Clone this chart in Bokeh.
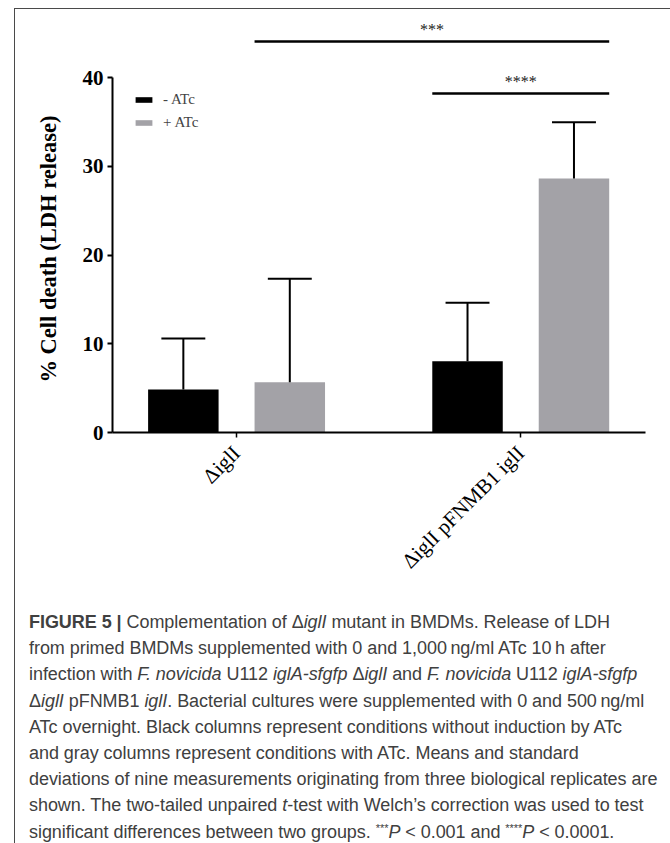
from bokeh.plotting import figure
from bokeh.models import ColumnDataSource, Range1d, FixedTicker, Legend, LegendItem, Div, Title
from bokeh.layouts import column
from bokeh.core.properties import value
from bokeh.embed import file_html
from bokeh.resources import INLINE

# ---------------- data ----------------
categories = ["\u0394iglI", "\u0394iglI pFNMB1 iglI"]
series = ["- ATc", "+ ATc"]
minus_atc_mean = [4.85, 8.03]
minus_atc_sd = [5.74, 6.58]
plus_atc_mean = [5.67, 28.62]
plus_atc_sd = [11.65, 6.34]
y_ticks = [0, 10, 20, 30, 40]
y_title = "% Cell death (LDH release)"
# significance comparisons: (group, series) vs (group, series)
sig_from = [(0, 1), (1, 0)]
sig_to = [(1, 1), (1, 1)]
sig_level = [44.06, 38.2]
sig_label = ["***", "****"]

# ---------------- layout constants ----------------
DODGE = 0.1873
BAR_W = 0.248
CAP = 0.0773
SERIF = "Liberation Serif"
X_START = 0.0634

centers = [i + 0.5 for i in range(len(categories))]
offsets = [-DODGE, DODGE]

p = figure(width=649, height=595,
           x_range=Range1d(X_START, 1.939), y_range=Range1d(0, 47.1),
           output_backend="svg", toolbar_location=None,
           min_border_left=96, min_border_right=19,
           min_border_top=5, min_border_bottom=172)
p.outline_line_color = None
p.xgrid.visible = False
p.ygrid.visible = False
p.background_fill_color = "white"
p.border_fill_color = "white"

colors = ["#000000", "#a3a2a7"]
means = [minus_atc_mean, plus_atc_mean]
sds = [minus_atc_sd, plus_atc_sd]
renderers = []
for s in range(2):
    xs = [c + offsets[s] for c in centers]
    src = ColumnDataSource(dict(
        x=xs, top=means[s],
        err=[m + d for m, d in zip(means[s], sds[s])],
        cl=[x - CAP for x in xs], cr=[x + CAP for x in xs]))
    r = p.vbar(x="x", top="top", bottom=0, width=BAR_W, source=src,
               fill_color=colors[s], line_color=None)
    renderers.append(r)
    p.segment(x0="x", y0="top", x1="x", y1="err", source=src,
              line_color="black", line_width=2)
    p.segment(x0="cl", y0="err", x1="cr", y1="err", source=src,
              line_color="black", line_width=2)

# significance bars
def edge(g, s, side):
    return centers[g] + offsets[s] + side * BAR_W / 2

sig_src = ColumnDataSource(dict(
    x0=[edge(g, s, -1) for g, s in sig_from],
    x1=[edge(g, s, 1) for g, s in sig_to],
    y=sig_level, label=sig_label))
sig_src.data["xm"] = [(a + b) / 2 for a, b in zip(sig_src.data["x0"], sig_src.data["x1"])]
p.segment(x0="x0", y0="y", x1="x1", y1="y", source=sig_src,
          line_color="black", line_width=2.5)
p.text(x="xm", y="y", text="label", source=sig_src, text_align="center",
       text_baseline="middle", y_offset=-11.5, text_font=value(SERIF),
       text_font_size="16px", text_color="#222222")

# axes
ya = p.yaxis[0]
ya.bounds = (y_ticks[0], y_ticks[-1])
ya.ticker = FixedTicker(ticks=y_ticks)
ya.minor_tick_line_color = None
ya.major_tick_in = 0
ya.major_tick_out = 5
ya.major_tick_line_width = 2
ya.axis_line_width = 2
ya.major_label_standoff = 4
ya.major_label_text_font = SERIF
ya.major_label_text_font_style = "bold"
ya.major_label_text_font_size = "21px"
ya.major_label_text_color = "black"

# y title in the left panel, aligned so it is centred on the drawn axis
ytitle = Title(text=y_title, align="left", offset=50, standoff=37,
               vertical_align="bottom", text_font=SERIF, text_font_style="bold",
               text_font_size="22.5px", text_color="black")
p.add_layout(ytitle, "left")

xa = p.xaxis[0]
xa.ticker = FixedTicker(ticks=centers)
xa.major_label_overrides = {c: lab for c, lab in zip(centers, categories)}
xa.minor_tick_line_color = None
xa.major_tick_in = 0
xa.major_tick_out = 5
xa.major_tick_line_width = 1.5
xa.axis_line_width = 2
xa.major_label_orientation = 0.785398
xa.major_label_standoff = 12
xa.major_label_text_font = SERIF
xa.major_label_text_font_size = "21px"
xa.major_label_text_color = "black"

legend = Legend(items=[LegendItem(label=series[i], renderers=[renderers[i]]) for i in range(2)],
                location=(21, 300), glyph_width=21, glyph_height=7,
                label_text_font=SERIF, label_text_font_size="15px",
                label_standoff=9, spacing=3, padding=0, margin=0,
                label_height=20, border_line_color=None, background_fill_alpha=0)
p.add_layout(legend)

SUP = "<span style='font-size:11px;position:relative;top:-0.55em;line-height:0'>"
caption_lines = [
    "<b>FIGURE 5 |</b> Complementation of \u0394<i>iglI</i> mutant in BMDMs. Release of LDH",
    "from primed BMDMs supplemented with 0 and 1,000&thinsp;ng/ml ATc 10&thinsp;h after",
    "infection with <i>F. novicida</i> U112 <i>iglA-sfgfp</i> \u0394<i>iglI</i> and <i>F. novicida</i> U112 <i>iglA-sfgfp</i>",
    "\u0394<i>iglI</i> pFNMB1 <i>iglI</i>. Bacterial cultures were supplemented with 0 and 500&thinsp;ng/ml",
    "ATc overnight. Black columns represent conditions without induction by ATc",
    "and gray columns represent conditions with ATc. Means and standard",
    "deviations of nine measurements originating from three biological replicates are",
    "shown. The two-tailed unpaired <i>t</i>-test with Welch\u2019s correction was used to test",
    "significant differences between two groups. " + SUP + "***</span><i>P</i> &lt; 0.001 and "
    + SUP + "****</span><i>P</i> &lt; 0.0001.",
]
cap = Div(text="<div style='font-family:\"Liberation Sans\";font-size:18px;line-height:26.2px;"
               "color:#404040;white-space:nowrap;padding-left:9px;letter-spacing:-0.05px;'>"
               + "<br>".join(caption_lines) + "</div>",
          width=649, height=238, styles={"overflow": "hidden"})

layout = column(p, cap, margin=(8, 0, 0, 14),
                styles={"border-top": "1.5px solid #4a4a4a",
                        "border-left": "1.5px solid #4a4a4a",
                        "border-right": "1.5px solid #4a4a4a"})

open("out.html", "w").write(file_html(layout, INLINE))
